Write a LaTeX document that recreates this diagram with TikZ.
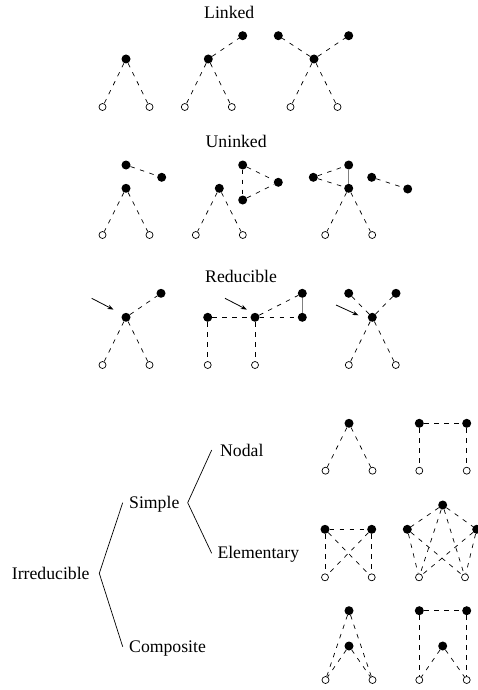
\documentclass[tikz,border=0pt]{standalone}
\usepackage{fontspec}
\setmainfont{Liberation Serif}
\usetikzlibrary{arrows.meta}
\begin{document}
\begin{tikzpicture}[x=1pt,y=-1pt,
  fd/.style={circle,fill=black,inner sep=0pt,minimum size=9pt},
  od/.style={circle,draw=black,fill=white,line width=0.7pt,inner sep=0pt,minimum size=7pt},
  ed/.style={line width=0.7pt,dash pattern=on 4.5pt off 5.5pt},
  sd/.style={line width=0.7pt,gray},
  ar/.style={line width=0.8pt,-{Stealth[length=6pt,width=4.5pt]}},
  br/.style={line width=0.7pt},
  lab/.style={anchor=base west,inner sep=0pt,font=\fontsize{17.7}{20}\selectfont}]
\useasboundingbox (0,0) rectangle (478,690);
% titles
\node[lab] (tLinked) at (204,19) {Linked};
\node[lab] (tUninked) at (205.5,147.3) {Uninked};
\node[lab] (tReducible) at (205,282.3) {Reducible};
% ---------- Linked
\node[fd] (L1a) at (126,59) {};
\node[od] (L1o) at (102.5,107) {};
\node[od] (L1p) at (149.5,107) {};
\draw[ed] (L1a) -- (L1o); \draw[ed] (L1a) -- (L1p);
\node[fd] (L2a) at (208.3,59) {};
\node[fd] (L2x) at (242.7,35.7) {};
\node[od] (L2o) at (184.8,107) {};
\node[od] (L2p) at (231.8,107) {};
\draw[ed] (L2a) -- (L2o); \draw[ed] (L2a) -- (L2p); \draw[ed] (L2a) -- (L2x);
\node[fd] (L3a) at (314,59) {};
\node[fd] (L3x) at (278.3,35.7) {};
\node[fd] (L3y) at (348.7,35.7) {};
\node[od] (L3o) at (290.5,107) {};
\node[od] (L3p) at (337.5,107) {};
\draw[ed] (L3a) -- (L3o); \draw[ed] (L3a) -- (L3p); \draw[ed] (L3a) -- (L3x); \draw[ed] (L3a) -- (L3y);
% ---------- Uninked
\node[fd] (U1a) at (126,188.3) {};
\node[od] (U1o) at (102.5,235) {};
\node[od] (U1p) at (149.5,235) {};
\node[fd] (U1x) at (126,165) {};
\node[fd] (U1y) at (161.7,177.3) {};
\draw[ed] (U1a) -- (U1o); \draw[ed] (U1a) -- (U1p); \draw[ed] (U1x) -- (U1y);
\node[fd] (U2a) at (219.3,188.3) {};
\node[od] (U2o) at (195.8,235) {};
\node[od] (U2p) at (242.8,235) {};
\node[fd] (U2t) at (242.7,165) {};
\node[fd] (U2r) at (278.3,182.3) {};
\node[fd] (U2b) at (242.7,200) {};
\draw[ed] (U2a) -- (U2o); \draw[ed] (U2a) -- (U2p);
\draw[ed] (U2t) -- (U2b); \draw[ed] (U2t) -- (U2r); \draw[ed] (U2b) -- (U2r);
\node[fd] (U3a) at (348.7,188.3) {};
\node[od] (U3o) at (325.2,235) {};
\node[od] (U3p) at (372.2,235) {};
\node[fd] (U3t) at (348.7,165) {};
\node[fd] (U3l) at (313.3,177.3) {};
\node[fd] (U3x) at (371.7,177.3) {};
\node[fd] (U3y) at (407.7,189) {};
\draw[ed] (U3a) -- (U3o); \draw[ed] (U3a) -- (U3p);
\draw[sd] (U3t) -- (U3a); \draw[ed] (U3l) -- (U3t); \draw[ed] (U3l) -- (U3a);
\draw[ed] (U3x) -- (U3y);
% ---------- Reducible
\node[fd] (R1a) at (126,317.3) {};
\node[od] (R1o) at (102.5,365) {};
\node[od] (R1p) at (149.5,365) {};
\node[fd] (R1x) at (161,293.3) {};
\draw[ed] (R1a) -- (R1o); \draw[ed] (R1a) -- (R1p); \draw[ed] (R1a) -- (R1x);
\coordinate (R1s) at (91.7,298.3); \coordinate (R1e) at (113.5,309.6);
\draw[ar] (R1s) -- (R1e);
\node[fd] (R2c) at (255,317.3) {};
\node[fd] (R2l) at (207.7,317.3) {};
\node[fd] (R2r) at (302.3,317.3) {};
\node[fd] (R2t) at (302.3,293.3) {};
\node[od] (R2o) at (207.7,365) {};
\node[od] (R2p) at (255,365) {};
\draw[ed] (R2l) -- (R2c); \draw[ed] (R2c) -- (R2r); \draw[ed] (R2c) -- (R2t);
\draw[sd] (R2t) -- (R2r);
\draw[ed] (R2l) -- (R2o); \draw[ed] (R2c) -- (R2p);
\coordinate (R2s) at (225,298.3); \coordinate (R2e) at (246.8,309.6);
\draw[ar] (R2s) -- (R2e);
\node[fd] (R3a) at (372.3,317.3) {};
\node[od] (R3o) at (348.8,365) {};
\node[od] (R3p) at (395.8,365) {};
\node[fd] (R3x) at (348.7,293.3) {};
\node[fd] (R3y) at (396,293.3) {};
\draw[ed] (R3a) -- (R3o); \draw[ed] (R3a) -- (R3p); \draw[ed] (R3a) -- (R3x); \draw[ed] (R3a) -- (R3y);
\coordinate (R3s) at (336,305); \coordinate (R3e) at (358.5,315.3);
\draw[ar] (R3s) -- (R3e);
% ---------- classification
\node[lab] (tNodal) at (220,456) {Nodal};
\node[lab] (tSimple) at (129,508.3) {Simple};
\node[lab] (tElem) at (217.3,558.3) {Elementary};
\node[lab] (tIrr) at (11.7,579) {Irreducible};
\node[lab] (tComp) at (129,652.3) {Composite};
\coordinate (b1v) at (99.3,573.3);
\coordinate (b1t) at (122.7,502.7);
\coordinate (b1b) at (122.7,646.7);
\draw[br] (b1t) -- (b1v) -- (b1b);
\coordinate (b2v) at (187.7,502.7);
\coordinate (b2t) at (211.7,450);
\coordinate (b2b) at (211.7,553.3);
\draw[br] (b2t) -- (b2v) -- (b2b);
% Nodal
\node[fd] (N1a) at (349,423.3) {};
\node[od] (N1o) at (325.5,470.7) {};
\node[od] (N1p) at (372.5,470.7) {};
\draw[ed] (N1a) -- (N1o); \draw[ed] (N1a) -- (N1p);
\node[fd] (N2l) at (419.3,423.3) {};
\node[fd] (N2r) at (466.7,423.3) {};
\node[od] (N2o) at (419.3,470.7) {};
\node[od] (N2p) at (466.7,470.7) {};
\draw[ed] (N2l) -- (N2r); \draw[ed] (N2l) -- (N2o); \draw[ed] (N2r) -- (N2p);
% Elementary
\node[fd] (E1l) at (325,529.3) {};
\node[fd] (E1r) at (371.7,529.3) {};
\node[od] (E1o) at (325,577.3) {};
\node[od] (E1p) at (371.7,577.3) {};
\draw[ed] (E1l) -- (E1r); \draw[ed] (E1l) -- (E1o); \draw[ed] (E1r) -- (E1p);
\draw[ed] (E1l) -- (E1p); \draw[ed] (E1r) -- (E1o);
\node[fd] (E2t) at (442.7,505) {};
\node[fd] (E2l) at (407.3,529.3) {};
\node[fd] (E2r) at (476.7,529.3) {};
\node[od] (E2o) at (419,577.3) {};
\node[od] (E2p) at (465,577.3) {};
\draw[ed] (E2t) -- (E2l); \draw[ed] (E2t) -- (E2r);
\draw[ed] (E2t) -- (E2o); \draw[ed] (E2t) -- (E2p);
\draw[ed] (E2l) -- (E2o); \draw[ed] (E2l) -- (E2p);
\draw[ed] (E2r) -- (E2o); \draw[ed] (E2r) -- (E2p);
% Composite
\node[fd] (C1t) at (349,610.7) {};
\node[fd] (C1m) at (349,646) {};
\node[od] (C1o) at (325.5,680) {};
\node[od] (C1p) at (372.5,680) {};
\draw[ed] (C1t) -- (C1o); \draw[ed] (C1t) -- (C1p);
\draw[ed] (C1m) -- (C1o); \draw[ed] (C1m) -- (C1p);
\node[fd] (C2l) at (419.3,610.7) {};
\node[fd] (C2r) at (466.7,610.7) {};
\node[fd] (C2m) at (442.7,646) {};
\node[od] (C2o) at (419.3,680) {};
\node[od] (C2p) at (466.7,680) {};
\draw[ed] (C2l) -- (C2r); \draw[ed] (C2l) -- (C2o); \draw[ed] (C2r) -- (C2p);
\draw[ed] (C2m) -- (C2o); \draw[ed] (C2m) -- (C2p);
\end{tikzpicture}
\end{document}
